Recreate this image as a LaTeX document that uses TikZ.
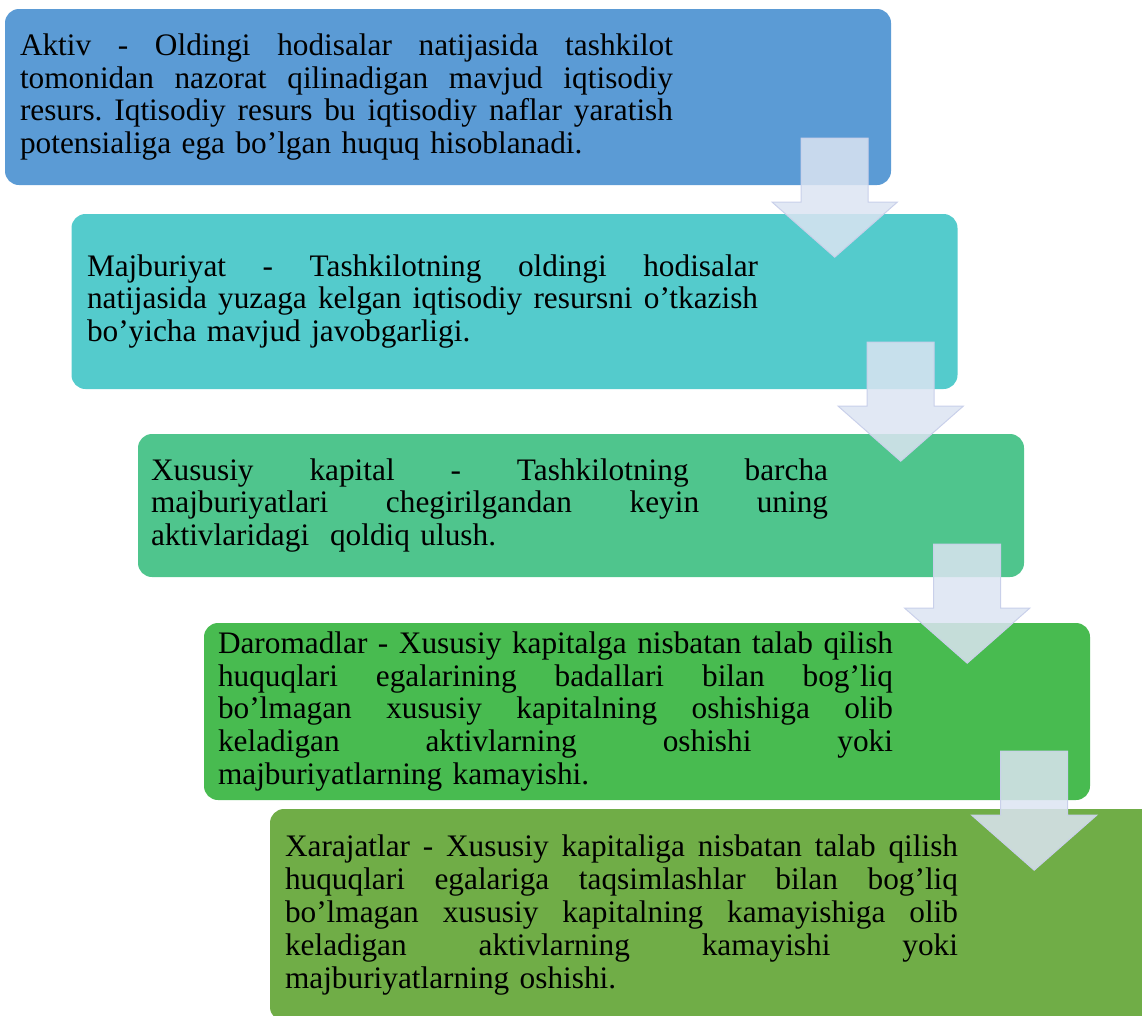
\documentclass[tikz,border=0pt]{standalone}
\usepackage{fontspec}
\setmainfont{Liberation Serif}
\usetikzlibrary{calc}

\definecolor{aktivblue}{HTML}{5B9BD5}
\definecolor{majteal}{HTML}{54CBCC}
\definecolor{kapgreen}{HTML}{4FC58D}
\definecolor{darogreen}{HTML}{48BB50}
\definecolor{xarolive}{HTML}{70AD47}
\definecolor{arrowfill}{HTML}{DCE4F2}
\definecolor{arrowline}{HTML}{C9D0EA}

% bir qatorni berilgan kenglikka cho'zish
\newcommand{\jl}[2]{\makebox[#1][s]{\spaceskip=.25em plus 1fil\relax #2}\\}

\begin{document}
\frenchspacing
\begin{tikzpicture}[
        x=1pt, y=-1pt,
        stepbox/.style={rectangle, rounded corners=14pt, minimum width=886pt, inner sep=0pt},
        steptext/.style={anchor=west, align=left, inner sep=0pt, font=\fontsize{31.3}{32.8}\selectfont},
        arrowshape/.style={fill=arrowfill, fill opacity=0.85, draw=arrowline, line width=1pt},
        pics/downarrow/.style={code={
            \path[arrowshape] (-33.5,0) -- (33.5,0) -- (33.5,64) -- (62.5,64)
                -- (0,119) -- (-62.5,64) -- (-33.5,64) -- cycle;
        }}
    ]
    \useasboundingbox (0,0) rectangle (1142,1015);

    % bloklar
    \node[stepbox, fill=aktivblue, minimum height=176pt] (b1) at (448,97) {};
    \node[stepbox, fill=majteal, minimum height=175pt] (b2) at (514.5,301.5) {};
    \node[stepbox, fill=kapgreen, minimum height=143pt] (b3) at (581,505.5) {};
    \node[stepbox, fill=darogreen, minimum height=177pt] (b4) at (647,711.5) {};
    \node[stepbox, fill=xarolive, minimum height=212pt] (b5) at (713,915) {};

    % matnlar
    \node[steptext, text width=653pt] (t1) at ($(b1.west)+(15,0)$) {%
        \jl{653pt}{Aktiv - Oldingi hodisalar natijasida tashkilot}
        \jl{653pt}{tomonidan nazorat qilinadigan mavjud iqtisodiy}
        \jl{653pt}{resurs. Iqtisodiy resurs bu iqtisodiy naflar yaratish}
        potensialiga ega bo’lgan huquq hisoblanadi.};
    \node[steptext, text width=671pt] (t2) at ($(b2.west)+(15.5,0)$) {%
        \jl{671pt}{Majburiyat - Tashkilotning oldingi hodisalar}
        \jl{671pt}{natijasida yuzaga kelgan iqtisodiy resursni o’tkazish}
        bo’yicha mavjud javobgarligi.};
    \node[steptext, text width=677pt] (t3) at ($(b3.west)+(13,0)$) {%
        \jl{677pt}{Xususiy kapital - Tashkilotning barcha}
        \jl{677pt}{majburiyatlari chegirilgandan keyin uning}
        aktivlaridagi\ \ qoldiq ulush.};
    \node[steptext, text width=675pt] (t4) at ($(b4.west)+(14,0)$) {%
        \jl{675pt}{Daromadlar - Xususiy kapitalga nisbatan talab qilish}
        \jl{675pt}{huquqlari egalarining badallari bilan bog’liq}
        \jl{675pt}{bo’lmagan xususiy kapitalning oshishiga olib}
        \jl{675pt}{keladigan aktivlarning oshishi yoki}
        majburiyatlarning kamayishi.};
    \node[steptext, text width=673pt] (t5) at ($(b5.west)+(15,0)$) {%
        \jl{673pt}{Xarajatlar - Xususiy kapitaliga nisbatan talab qilish}
        \jl{673pt}{huquqlari egalariga taqsimlashlar bilan bog’liq}
        \jl{673pt}{bo’lmagan xususiy kapitalning kamayishiga olib}
        \jl{673pt}{keladigan aktivlarning kamayishi yoki}
        majburiyatlarning oshishi.};

    % strelkalar
    \pic at ($(b1.south east)+(-56.5,-47)$) {downarrow};
    \pic at ($(b2.south east)+(-57,-47)$) {downarrow};
    \pic at ($(b3.south east)+(-57,-33)$) {downarrow};
    \pic at ($(b4.south east)+(-56,-49)$) {downarrow};
\end{tikzpicture}
\end{document}
